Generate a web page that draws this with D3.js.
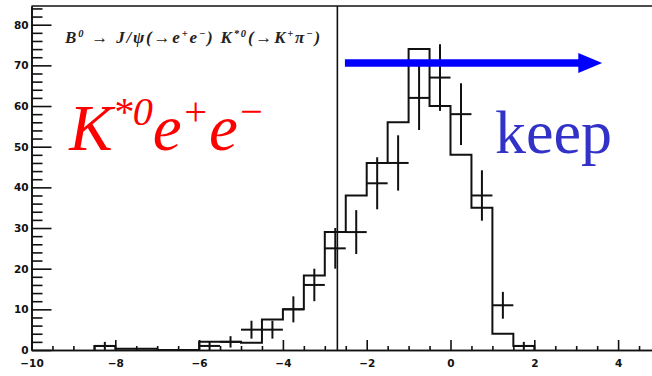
<!DOCTYPE html>
<html>
<head>
<meta charset="utf-8">
<script src="https://cdn.jsdelivr.net/npm/d3@7"></script>
<style>
  html, body { margin: 0; padding: 0; background: #fff; }
  svg { display: block; }
</style>
</head>
<body>
<svg id="plot" width="652" height="376"></svg>
<script>
// histogram (MC) bin centres and contents
const binCenters = [-8.25, -7.75, -7.25, -6.75, -6.25, -5.75, -5.25, -4.75, -4.25, -3.75, -3.25,
                    -2.75, -2.25, -1.75, -1.25, -0.75, -0.25, 0.25, 0.75, 1.25, 1.75];
const mcCounts = [1, 0.3, 0.3, 0, 0, 2, 2, 1.8, 7.5, 10, 18.3,
                  29, 38, 46, 56, 74, 60, 48, 35, 4, 1];
const binWidth = 0.5;

// data points with error bars
const dataX = [-8.25, -5.75, -5.25, -4.75, -4.25, -3.75, -3.25, -2.75, -2.25,
               -1.75, -1.25, -0.75, -0.25, 0.25, 0.75, 1.25, 1.75];
const dataY = [1, 1, 2, 5, 5, 10, 16, 25, 29, 41, 46, 62, 67, 58, 38, 11, 1];
const dataErr = [1, 1, 1.4, 2.2, 2.2, 3.2, 4, 5, 5.4, 6.4, 6.8, 7.9, 8.2, 7.6, 6.2, 3.3, 1];

// axis ticks
const xMajorTicks = [-10, -8, -6, -4, -2, 0, 2, 4];
const yMajorTicks = [0, 10, 20, 30, 40, 50, 60, 70, 80];

// cut value and labels
const cutValue = -2.7;
const titleParts = [["B", ""], ["0", "sup"], [" \u2192 J/\u03C8(\u2192e", ""], ["+", "sup"], ["e", ""], ["\u2212", "sup"],
                    [") K", ""], ["*0", "sup"], ["(\u2192K", ""], ["+", "sup"], ["\u03C0", ""], ["\u2212", "sup"], [")", ""]];
const channelParts = [["K", ""], ["*0", "sup"], ["e", ""], ["+", "sup"], ["e", ""], ["\u2212", "sup"]];
const keepLabel = "keep";

const svg = d3.select("svg#plot");

const x = d3.scaleLinear().domain([-10, 5]).range([31.5, 660]);
const y = d3.scaleLinear().domain([0, 84.6]).range([350, 6]);

// minor ticks
const xMinor = d3.range(-10, 5.01, 0.5).filter(v => xMajorTicks.indexOf(v) < 0);
const yMinor = d3.range(0, 84.6, 2).filter(v => yMajorTicks.indexOf(v) < 0);

const axisStyle = g => {
    g.selectAll("path.domain").attr("stroke", "#111").attr("stroke-width", 1.6);
    g.selectAll(".tick line").attr("stroke", "#111").attr("stroke-width", 1.6);
    g.selectAll(".tick text")
        .attr("fill", "#111")
        .attr("font-family", "DejaVu Sans")
        .attr("font-weight", "bold")
        .attr("font-size", 10.5);
};

svg.append("g")
    .attr("transform", `translate(0,${y(0)})`)
    .call(d3.axisBottom(x).tickValues(xMinor).tickFormat("").tickSizeInner(-4).tickSizeOuter(0))
    .call(axisStyle);

svg.append("g")
    .attr("transform", `translate(0,${y(0)})`)
    .call(d3.axisBottom(x).tickValues(xMajorTicks).tickFormat(d3.format("d")).tickSizeInner(-10).tickSizeOuter(0).tickPadding(10))
    .call(axisStyle);

svg.append("g")
    .attr("transform", `translate(${x(-10)},0)`)
    .call(d3.axisLeft(y).tickValues(yMinor).tickFormat("").tickSizeInner(-11).tickSizeOuter(0))
    .call(axisStyle);

svg.append("g")
    .attr("transform", `translate(${x(-10)},0)`)
    .call(d3.axisLeft(y).tickValues(yMajorTicks).tickFormat(d3.format("d")).tickSizeInner(-20).tickSizeOuter(0).tickPadding(3))
    .call(axisStyle);

// top frame line
svg.append("line")
    .attr("x1", x(-10)).attr("x2", x(5))
    .attr("y1", y(84.6)).attr("y2", y(84.6))
    .attr("stroke", "#111").attr("stroke-width", 1.6);

// histogram outline
let stepPoints = [[binCenters[0] - binWidth / 2, 0]];
binCenters.forEach((c, i) => {
    stepPoints.push([c - binWidth / 2, mcCounts[i]]);
    stepPoints.push([c + binWidth / 2, mcCounts[i]]);
});
stepPoints.push([binCenters[binCenters.length - 1] + binWidth / 2, 0]);

const line = d3.line()
    .x(d => x(d[0]))
    .y(d => y(d[1]));

svg.append("path")
    .datum(stepPoints)
    .attr("d", line)
    .attr("fill", "none")
    .attr("stroke", "#111")
    .attr("stroke-width", 2);

// data crosses
const points = dataX.map((v, i) => ({ x: v, y: dataY[i], e: dataErr[i] }));
const cross = svg.append("g").attr("stroke", "#111").attr("stroke-width", 2);

cross.selectAll(".hbar")
    .data(points)
    .enter()
    .append("line")
    .attr("class", "hbar")
    .attr("x1", d => x(d.x - binWidth / 2))
    .attr("x2", d => x(d.x + binWidth / 2))
    .attr("y1", d => y(d.y))
    .attr("y2", d => y(d.y));

cross.selectAll(".vbar")
    .data(points)
    .enter()
    .append("line")
    .attr("class", "vbar")
    .attr("x1", d => x(d.x))
    .attr("x2", d => x(d.x))
    .attr("y1", d => y(Math.max(0, d.y - d.e)))
    .attr("y2", d => y(d.y + d.e));

// cut line
svg.append("line")
    .attr("x1", x(cutValue)).attr("x2", x(cutValue))
    .attr("y1", y(0)).attr("y2", y(84.6))
    .attr("stroke", "#111").attr("stroke-width", 1.6);

// superscripts need to come back down, so handle dy pairs explicitly
function supText(parent, parts, shift) {
    let up = false;
    parts.forEach(p => {
        const t = parent.append("tspan").text(p[0]);
        if (p[1] === "sup" && !up) { t.attr("dy", -shift).attr("font-size", "62%"); up = true; }
        else if (p[1] === "sup") { t.attr("font-size", "62%"); }
        else if (up) { t.attr("dy", shift); up = false; }
    });
}

const title = svg.append("text")
    .attr("x", x(-9.2))
    .attr("y", y(75.4))
    .attr("font-family", "Liberation Serif")
    .attr("font-style", "italic")
    .attr("font-weight", "bold")
    .attr("font-size", 17)
    .attr("letter-spacing", 1.8)
    .attr("fill", "#222");
supText(title, titleParts, 6);

const channel = svg.append("text")
    .attr("x", x(-9.1))
    .attr("y", y(49.2))
    .attr("font-family", "Liberation Serif")
    .attr("font-style", "italic")
    .attr("font-size", 65)
    .attr("fill", "#ff0000");
supText(channel, channelParts, 25);

svg.append("text")
    .attr("x", x(1.06))
    .attr("y", y(48.5))
    .attr("font-family", "Liberation Serif")
    .attr("font-size", 62)
    .attr("fill", "#3232c8")
    .text(keepLabel);

// arrow
svg.append("line")
    .attr("x1", x(-2.52)).attr("x2", x(3.1))
    .attr("y1", y(70.6)).attr("y2", y(70.6))
    .attr("stroke", "#0000ff")
    .attr("stroke-width", 7.5);

svg.append("path")
    .attr("d", `M${x(3.05)},${y(70.6) - 10}L${x(3.62)},${y(70.6)}L${x(3.05)},${y(70.6) + 10}Z`)
    .attr("fill", "#0000ff");
</script>
</body>
</html>
